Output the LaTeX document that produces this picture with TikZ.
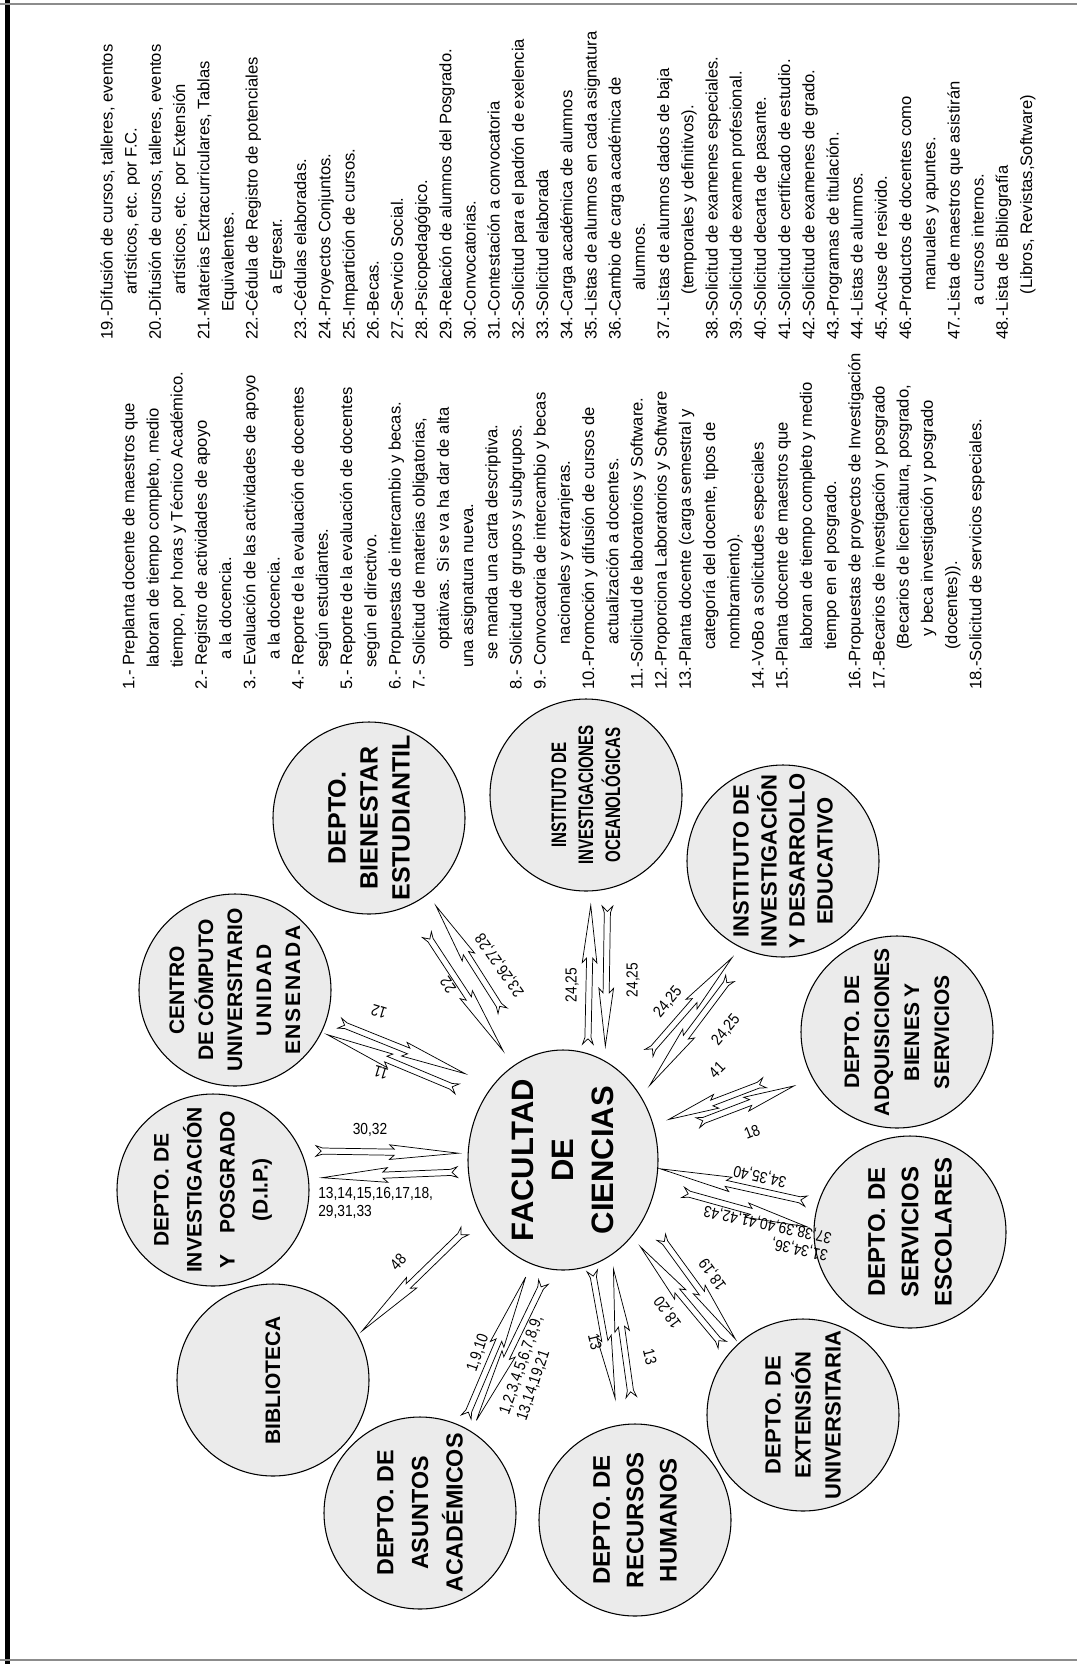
\documentclass[tikz,border=0pt]{standalone}
\usepackage{fontspec}
\setmainfont{Liberation Sans}
\newfontfamily\narrowfont[FakeStretch=0.86]{Liberation Sans}
\newfontfamily\condfont[FakeStretch=0.72]{Liberation Sans}
\usetikzlibrary{calc,shapes.geometric}

\tikzset{
  circ/.style={circle, draw=black, line width=0.8pt, fill=black!8, minimum size=144pt, inner sep=0pt},
  ctext/.style={rotate=90, align=center, inner sep=0pt},
  lbl/.style={inner sep=0pt, font=\narrowfont\fontsize{12pt}{13.5pt}\selectfont},
  listtext/.style={rotate=90, anchor=north west, align=left, inner sep=0pt,
     font=\fontsize{12.45pt}{18.15pt}\selectfont},
  boltline/.style={draw=black, fill=white, line width=0.55pt, line join=miter},
}

% #1 from, #2 to, #3 gap at start, #4 gap at end, #5 fraction where the head begins
\newcommand\myarrow[5]{%
  \path[boltline] let \p1=($(#1)!#3!(#2)$), \p2=($(#2)!#4!(#1)$),
     \n1={atan2(\y2-\y1,\x2-\x1)} in
     ($(\p1)+({\n1+90}:4pt)$) --
     ($(\p1)+({\n1}:5pt)+({\n1+90}:2.3pt)$) --
     ($(\p1)!#5!(\p2)+({\n1+90}:2.3pt)$) --
     ($(\p1)!#5!(\p2)+({\n1+180}:3.5pt)+({\n1+90}:5.5pt)$) --
     (\p2) --
     ($(\p1)!#5!(\p2)+({\n1+180}:3.5pt)+({\n1-90}:5.5pt)$) --
     ($(\p1)!#5!(\p2)+({\n1-90}:2.3pt)$) --
     ($(\p1)+({\n1}:5pt)+({\n1-90}:2.3pt)$) --
     ($(\p1)+({\n1-90}:4pt)$) --
     ($(\p1)+({\n1}:4pt)$) -- cycle;}

\begin{document}
\begin{tikzpicture}[x=0.75pt, y=0.75pt]
\useasboundingbox (0,0) rectangle (1077,-1664);
\fill[white] (0,0) rectangle (1077,-1664);

% page frame
\draw[line width=3.4pt] (7.5,0) -- (7.5,-1664);
\draw[black!45, line width=2.2pt] (0,-4) -- (1077,-4);
\draw[black!45, line width=2.2pt] (0,-1660) -- (1077,-1660);

% circles
\node[ellipse, draw=black, line width=0.8pt, fill=black!8, minimum width=142.5pt, minimum height=165pt, inner sep=0pt] (fac) at (563,-1160) {};
\node[circ] (ocean)  at (586,-795) {};
\node[circ] (inst)   at (783,-861) {};
\node[circ] (adq)    at (897,-1032) {};
\node[circ] (serv)   at (910,-1232) {};
\node[circ] (ext)    at (803,-1415) {};
\node[circ] (rh)     at (635,-1520) {};
\node[circ] (asu)    at (420,-1513) {};
\node[circ] (bib)    at (273,-1380) {};
\node[circ] (dip)    at (213,-1190) {};
\node[circ] (centro) at (235,-990) {};
\node[circ] (bien)   at (369,-818) {};

% circle texts
\node[ctext, font=\bfseries\fontsize{23.25pt}{30pt}\selectfont] (facT) at (fac) {FACULTAD\\DE\\CIENCIAS};
\node[ctext, font=\condfont\bfseries\fontsize{15.75pt}{20.25pt}\selectfont] (oceanT) at (ocean) {INSTITUTO DE\\INVESTIGACIONES\\OCEANOLÓGICAS};
\node[ctext, font=\bfseries\fontsize{16.5pt}{21pt}\selectfont] (instT) at (inst) {INSTITUTO DE\\INVESTIGACIÓN\\Y DESARROLLO\\EDUCATIVO};
\node[ctext, font=\bfseries\fontsize{15.75pt}{22.5pt}\selectfont] (adqT) at (adq) {DEPTO. DE\\ADQUISICIONES\\BIENES Y\\SERVICIOS};
\node[ctext, font=\bfseries\fontsize{18pt}{25pt}\selectfont] (servT) at (serv) {DEPTO. DE\\SERVICIOS\\ESCOLARES};
\node[ctext, font=\bfseries\fontsize{16.5pt}{22.5pt}\selectfont] (extT) at (ext) {DEPTO. DE\\EXTENSIÓN\\UNIVERSITARIA};
\node[ctext, font=\bfseries\fontsize{18pt}{25pt}\selectfont] (rhT) at (rh) {DEPTO. DE\\RECURSOS\\HUMANOS};
\node[ctext, font=\bfseries\fontsize{17.5pt}{26pt}\selectfont] (asuT) at (asu) {DEPTO. DE\\ASUNTOS\\ACADÉMICOS};
\node[ctext, font=\bfseries\fontsize{15.75pt}{20pt}\selectfont] (bibT) at (bib) {BIBLIOTECA};
\node[ctext, font=\bfseries\fontsize{15.75pt}{24.75pt}\selectfont] (dipT) at (dip) {DEPTO. DE\\INVESTIGACIÓN\\Y\quad POSGRADO\\(D.I.P.)};
\node[ctext, font=\bfseries\fontsize{15.75pt}{21.75pt}\selectfont] (centroT) at (centro) {CENTRO\\DE CÓMPUTO\\UNIVERSITARIO\\{\addfontfeature{LetterSpace=10}UNIDAD}\\{\addfontfeature{LetterSpace=8}ENSENADA}};
\node[ctext, font=\bfseries\fontsize{18.75pt}{24pt}\selectfont] (bienT) at (bien) {DEPTO.\\BIENESTAR\\ESTUDIANTIL};

% connectors
\myarrow{fac.77}{ocean.-87}{6.8pt}{10.5pt}{0.62}
\myarrow{ocean.-77}{fac.67}{12.8pt}{11pt}{0.62}
\myarrow{fac.52}{inst.-116}{25pt}{10pt}{0.55}
\myarrow{inst.-110}{fac.39}{25pt}{10.5pt}{0.55}
\myarrow{adq.-159}{fac.21}{34pt}{12pt}{0.55}
\myarrow{fac.13}{adq.-151}{33pt}{15pt}{0.55}
\myarrow{serv.163}{fac.-5}{9pt}{1.5pt}{0.55}
\myarrow{fac.-15}{serv.178}{21pt}{5pt}{0.55}
\myarrow{fac.-34}{ext.132}{20pt}{4pt}{0.55}
\myarrow{ext.140}{fac.-48}{8pt}{10pt}{0.55}
\myarrow{fac.-75}{rh.99}{4pt}{20pt}{0.55}
\myarrow{rh.90}{fac.-63}{20pt}{10.5pt}{0.55}
\myarrow{asu.64}{fac.-107}{7.5pt}{10.5pt}{0.55}
\myarrow{fac.-97}{asu.58}{10.5pt}{9pt}{0.55}
\myarrow{fac.-146}{bib.28}{16.5pt}{4pt}{0.55}
\myarrow{dip.24}{fac.176}{11pt}{7pt}{0.55}
\myarrow{fac.-173}{dip.7}{8pt}{10pt}{0.55}
\myarrow{centro.-17}{fac.133}{10pt}{22.5pt}{0.55}
\myarrow{fac.143}{centro.-26}{21pt}{4.5pt}{0.55}
\myarrow{bien.-66}{fac.118}{25.5pt}{13.5pt}{0.55}
\myarrow{fac.107}{bien.-52}{40pt}{10.5pt}{0.55}

% connector labels
\node[lbl, rotate=90] (lA1) at (572,-985) {24,25};
\node[lbl, rotate=90] (lA2) at (633,-980) {24,25};
\node[lbl, rotate=50] (lB1) at (668,-1002) {24,25};
\node[lbl, rotate=50] (lB2) at (726,-1030) {24,25};
\node[lbl, rotate=45] (lC1) at (717,-1070) {41};
\node[lbl, rotate=22] (lC2) at (752,-1132) {18};
\node[lbl, rotate=168] (lD1) at (760,-1176) {34,35,40};
\node[lbl, rotate=168, align=left] (lD2) at (766,-1233) {31,34,36,\\37,38,39,40,41,42,43};
\node[lbl, rotate=126] (lE1) at (713,-1274) {18,19};
\node[lbl, rotate=126] (lE2) at (668,-1312) {18,20};
\node[lbl, rotate=-76] (lF1) at (595,-1342) {13};
\node[lbl, rotate=-76] (lF2) at (650,-1357) {13};
\node[lbl, rotate=71] (lG1) at (478,-1353) {1,9,10};
\node[lbl, rotate=71, align=left] (lG2) at (530,-1368) {1,2,3,4,5,6,7,8,9,\\13,14,19,21};
\node[lbl, rotate=47] (lH1) at (398,-1262) {48};
\node[lbl] (lI1) at (370,-1130) {30,32};
\node[lbl, align=left, anchor=north west] (lI2) at (318,-1187) {13,14,15,16,17,18,\\29,31,33};
\node[lbl, rotate=163] (lJ1) at (379,-1012) {12};
\node[lbl, rotate=163] (lJ2) at (381,-1073) {11};
\node[lbl, rotate=125] (lK1) at (448,-985) {22};
\node[lbl, rotate=125] (lK2) at (500,-965) {23,26,27,28};

% list, items 1-18
\node[listtext] (listA) at (122,-690) {%
1.- Preplanta docente de maestros que\\
\hspace*{16.5pt}laboran de tiempo completo, medio\\
\hspace*{16.5pt}tiempo, por horas y Técnico Académico.\\
2.- Registro de actividades de apoyo\\
\hspace*{22.5pt}a la docencia.\\
3.- Evaluación de las actividades de apoyo\\
\hspace*{22.5pt}a la docencia.\\
4.- Reporte de la evaluación de docentes\\
\hspace*{16.5pt}según estudiantes.\\
5.- Reporte de la evaluación de docentes\\
\hspace*{16.5pt}según el directivo.\\
6.- Propuestas de intercambio y becas.\\
7.- Solicitud de materias obligatorias,\\
\hspace*{30pt}optativas. Si se va ha dar de alta\\
\hspace*{16.5pt}una asignatura nueva.\\
\hspace*{22.5pt}se manda una carta descriptiva.\\
8.- Solicitud de grupos y subgrupos.\\
9.- Convocatoria de intercambio y becas\\
\hspace*{34pt}nacionales y extranjeras.\\
10.-Promoción y difusión de cursos de\\
\hspace*{34pt}actualización a docentes.\\
11.-Solicitud de laboratorios y Software.\\
12.-Proporciona Laboratorios y Software\\
13.-Planta docente (carga semestral y\\
\hspace*{30pt}categoría del docente, tipos de\\
\hspace*{30pt}nombramiento).\\
14.-VoBo a solicitudes especiales\\
15.-Planta docente de maestros que\\
\hspace*{30pt}laboran de tiempo completo y medio\\
\hspace*{30pt}tiempo en el posgrado.\\
16.-Propuestas de proyectos de Investigación\\
17.-Becarios de investigación y posgrado\\
\hspace*{30pt}(Becarios de licenciatura, posgrado,\\
\hspace*{40pt}y beca investigación y posgrado\\
\hspace*{30pt}(docentes)).\\
18.-Solicitud de servicios especiales.};

% list, items 19-48
\node[listtext] (listB) at (100,-340) {%
19.-Difusión de cursos, talleres, eventos\\
\hspace*{34pt}artísticos, etc. por F.C.\\
20.-Difusión de cursos, talleres, eventos\\
\hspace*{34pt}artísticos, etc. por Extensión\\
21.-Materias Extracurriculares, Tablas\\
\hspace*{21pt}Equivalentes.\\
22.-Cédula de Registro de potenciales\\
\hspace*{34pt}a Egresar.\\
23.-Cédulas elaboradas.\\
24.-Proyectos Conjuntos.\\
25.-Impartición de cursos.\\
26.-Becas.\\
27.-Servicio Social.\\
28.-Psicopedagógico.\\
29.-Relación de alumnos del Posgrado.\\
30.-Convocatorias.\\
31.-Contestación a convocatoria\\
32.-Solicitud para el padrón de exelencia\\
33.-Solicitud elaborada\\
34.-Carga académica de alumnos\\
35.-Listas de alumnos en cada asignatura\\
36.-Cambio de carga académica de\\
\hspace*{37pt}alumnos.\\
37.-Listas de alumnos dados de baja\\
\hspace*{34pt}(temporales y definitivos).\\
38.-Solicitud de examenes especiales.\\
39.-Solicitud de examen profesional.\\
40.-Solicitud decarta de pasante.\\
41.-Solicitud de certificado de estudio.\\
42.-Solicitud de examenes de grado.\\
43.-Programas de titulación.\\
44.-Listas de alumnos.\\
45.-Acuse de resivido.\\
46.-Productos de docentes como\\
\hspace*{37pt}manuales y apuntes.\\
47.-Lista de maestros que asistirán\\
\hspace*{26pt}a cursos internos.\\
48.-Lista de Bibliografía\\
\hspace*{34pt}(Libros, Revistas,Software)};

\end{tikzpicture}
\end{document}
